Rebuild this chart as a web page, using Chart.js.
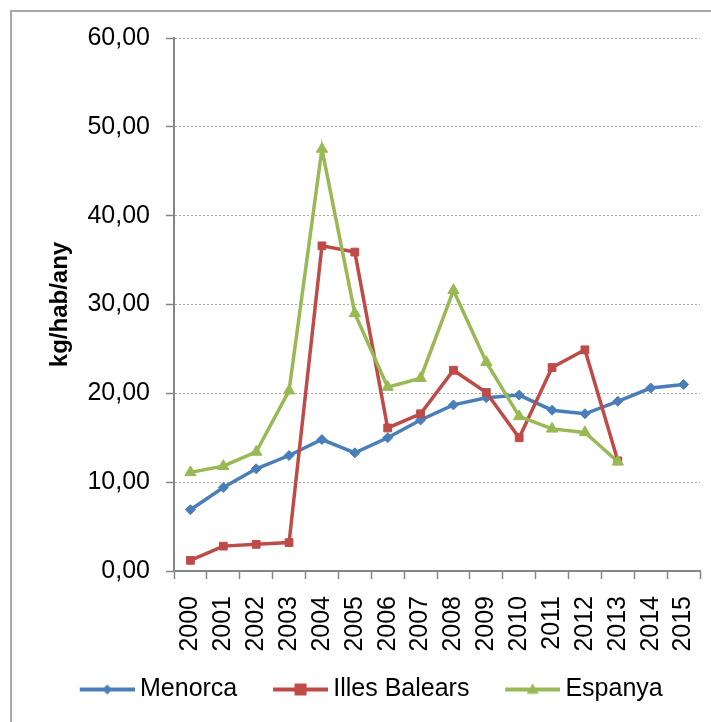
<!DOCTYPE html>
<html>
<head>
<meta charset="utf-8">
<script src="https://cdn.jsdelivr.net/npm/chart.js@4/dist/chart.umd.min.js"></script>
<style>
  html, body { margin: 0; padding: 0; background: #fff; }
  #frame { position: absolute; left: 10px; top: 10px; width: 720px; height: 730px;
           border-left: 2px solid #a8a8a8; border-top: 2px solid #a8a8a8; }
  #chart { position: absolute; left: 0; top: 0; }
</style>
</head>
<body>
<div id="frame"></div>
<canvas id="chart" width="711" height="722"></canvas>
<script>
// years on the x axis
const years = ['2000','2001','2002','2003','2004','2005','2006','2007',
               '2008','2009','2010','2011','2012','2013','2014','2015'];

// kg/hab/any
const menorca = [6.9, 9.4, 11.5, 13.0, 14.8, 13.3, 15.0, 17.0,
                 18.7, 19.5, 19.8, 18.1, 17.7, 19.1, 20.6, 21.0];
const illesBalears = [1.2, 2.8, 3.0, 3.2, 36.6, 35.9, 16.1, 17.7,
                      22.6, 20.1, 15.0, 22.9, 24.9, 12.4];
const espanya = [11.1, 11.8, 13.4, 20.3, 47.5, 29.0, 20.7, 21.7,
                 31.6, 23.5, 17.4, 16.0, 15.6, 12.3];

const yTicks = [0, 10, 20, 30, 40, 50, 60];

const FONT = "'Liberation Sans', Arial, sans-serif";
const AXIS_GREY = '#868686';

// legend picture: line with the marker, sitting in the right 55px of the image
function legendIcon(color, style, r) {
  const c = document.createElement('canvas');
  c.width = 75; c.height = 18;
  const g = c.getContext('2d');
  const x0 = 20, m = x0 + 27.5;
  g.strokeStyle = color; g.fillStyle = color; g.lineWidth = 4;
  g.beginPath(); g.moveTo(x0, 9); g.lineTo(x0 + 55, 9); g.stroke();
  g.beginPath();
  if (style === 'rectRot') {
    g.moveTo(m, 9 - r); g.lineTo(m + r, 9); g.lineTo(m, 9 + r); g.lineTo(m - r, 9);
  } else if (style === 'rect') {
    g.rect(m - r, 9 - r, 2 * r, 2 * r);
  } else {
    g.moveTo(m, 9 - r); g.lineTo(m + r, 9 + r * 0.7); g.lineTo(m - r, 9 + r * 0.7);
  }
  g.closePath(); g.fill();
  return c;
}

function series(label, data, color, style, radius, order) {
  return {
    label: label, data: data, order: order,
    borderColor: color, backgroundColor: color,
    borderWidth: 3.5, tension: 0,
    pointStyle: style, pointRadius: radius,
    pointBackgroundColor: color, pointBorderColor: color, pointBorderWidth: 1
  };
}

const ctx = document.getElementById('chart').getContext('2d');
new Chart(ctx, {
  type: 'line',
  data: {
    labels: years,
    datasets: [
      series('Menorca', menorca, '#4a7ebb', 'rectRot', 5, 3),
      series('Illes Balears', illesBalears, '#be4b48', 'rect', 5.5, 2),
      series('Espanya', espanya, '#98b954', 'triangle', 6.5, 1)
    ]
  },
  options: {
    responsive: false,
    animation: false,
    layout: { padding: { left: 44, right: 11, top: 38, bottom: 10 } },
    plugins: {
      tooltip: { enabled: false },
      legend: {
        position: 'bottom',
        align: 'start',
        labels: {
          usePointStyle: true,
          pointStyleWidth: 60.5,
          padding: 23,
          color: '#000',
          font: { family: FONT, size: 25 },
          generateLabels: chart => chart.data.datasets.map((ds, i) => ({
            text: ds.label,
            fontColor: '#000',
            pointStyle: legendIcon(ds.borderColor, ds.pointStyle, ds.pointStyle === 'rectRot' ? 5 : 6),
            datasetIndex: i,
            hidden: false,
            lineWidth: 0,
            strokeStyle: 'rgba(0,0,0,0)',
            fillStyle: 'rgba(0,0,0,0)'
          }))
        }
      }
    },
    scales: {
      x: {
        offset: true,
        grid: { display: true, drawOnChartArea: false, drawTicks: true, tickLength: 8,
                offset: true, color: AXIS_GREY, tickColor: AXIS_GREY, tickWidth: 1.5 },
        border: { display: true, color: AXIS_GREY, width: 2 },
        ticks: { color: '#000', font: { family: FONT, size: 25 }, padding: 17,
                 minRotation: 90, maxRotation: 90, autoSkip: false },
        afterFit: s => { s.height = 83; s.paddingLeft = 0; s.paddingRight = 0; }
      },
      y: {
        min: 0, max: 60,
        afterBuildTicks: s => { s.ticks = yTicks.map(v => ({ value: v })); },
        grid: {
          drawTicks: true, tickLength: 8,
          color: c => (c.tick && c.tick.value === 0) ? 'rgba(0,0,0,0)' : '#a8a8a8',
          tickColor: AXIS_GREY, tickBorderDash: [], tickWidth: 1.5, lineWidth: 1
        },
        border: { display: true, color: AXIS_GREY, width: 2, dash: [2, 2] },
        ticks: {
          color: '#000', padding: 16,
          font: { family: FONT, size: 25 },
          callback: v => Number(v).toFixed(2).replace('.', ',')
        },
        title: {
          display: true, text: 'kg/hab/any', color: '#000',
          font: { family: FONT, size: 24, weight: 'bold', lineHeight: 1 },
          padding: { top: 4, bottom: 0 }
        },
        afterFit: s => { s.width = 130; }
      }
    }
  }
});
</script>
</body>
</html>
